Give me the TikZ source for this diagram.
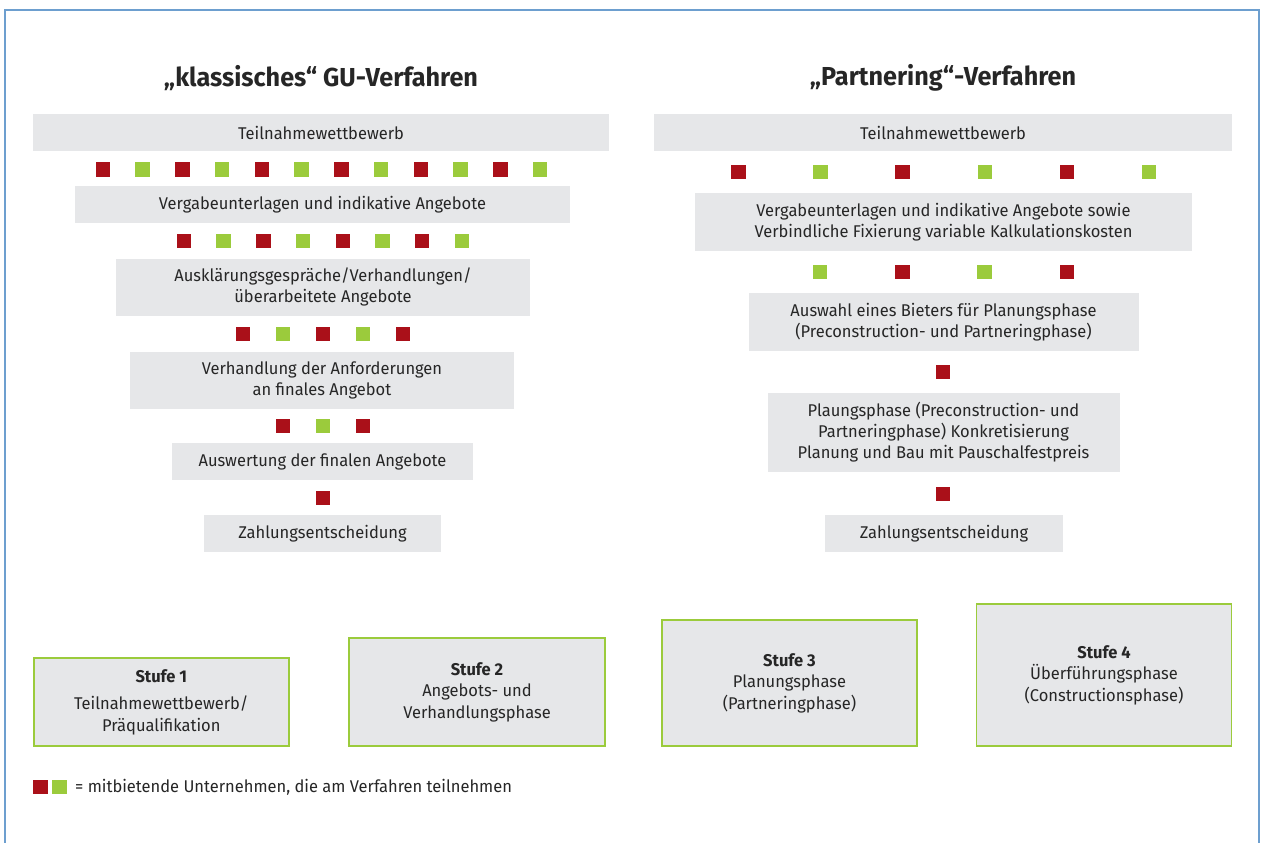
\documentclass[tikz,border=0pt]{standalone}
\usepackage{fontspec}
\setmainfont{Fira Sans}[FakeStretch=0.97]
\definecolor{boxgray}{HTML}{E6E7E9}
\definecolor{sqred}{HTML}{AA1019}
\definecolor{sqgreen}{HTML}{9BCB3C}
\definecolor{txt}{HTML}{262626}
\definecolor{frameblue}{HTML}{6D9FCF}
\begin{document}
\begin{tikzpicture}[x=1pt,y=-1pt,
  gbox/.style={rectangle, fill=boxgray, text=txt, align=center, inner sep=0pt, font=\fontsize{17}{21}\selectfont},
  stufe/.style={rectangle, fill=boxgray, draw=sqgreen, line width=1.5pt, text=txt, align=center, inner sep=0pt, font=\fontsize{17}{21.5}\selectfont},
  sqr/.style={rectangle, fill=sqred, minimum size=14.5pt, inner sep=0pt},
  sqg/.style={rectangle, fill=sqgreen, minimum size=14.5pt, inner sep=0pt},
  ttl/.style={text=txt, font=\fontsize{26}{30}\selectfont\bfseries, inner sep=0pt}]
\useasboundingbox (0,0) rectangle (1262,843);
\fill[white] (0,0) rectangle (1262,843);
\coordinate (fa) at (5,843);
\coordinate (fb) at (5,10);
\coordinate (fc) at (1259,10);
\coordinate (fd) at (1259,843);
\draw[frameblue, line width=1.8pt] (fa) -- (fb) -- (fc) -- (fd);

% titles
\node[ttl] (t1) at (321,78) {„klassisches“ GU-Verfahren};
\node[ttl] (t2) at (943,78) {„Partnering“-Verfahren};

% left column
\node[gbox, minimum width=576pt, minimum height=37pt] (l1) at (321,132.5) {Teilnahmewettbewerb};
\node[gbox, minimum width=495pt, minimum height=37pt] (l2) at (322.5,204.5) {Vergabeunterlagen und indikative Angebote};
\node[gbox, minimum width=414pt, minimum height=57pt] (l3) at (323,287) {Ausklärungsgespräche/Verhandlungen/\\überarbeitete Angebote};
\node[gbox, minimum width=384pt, minimum height=57pt] (l4) at (322,380) {Verhandlung der Anforderungen\\an finales Angebot};
\node[gbox, minimum width=301pt, minimum height=37pt] (l5) at (322.5,461.5) {Auswertung der finalen Angebote};
\node[gbox, minimum width=237pt, minimum height=37pt] (l6) at (322.5,533.5) {Zahlungsentscheidung};

\foreach \i in {0,...,11}{
  \pgfmathsetmacro{\xx}{103+39.73*\i}
  \ifodd\i \node[sqg] (la\i) at (\xx,169.5) {}; \else \node[sqr] (la\i) at (\xx,169.5) {}; \fi
}
\foreach \i in {0,...,7}{
  \pgfmathsetmacro{\xx}{184+39.7*\i}
  \ifodd\i \node[sqg] (lb\i) at (\xx,241) {}; \else \node[sqr] (lb\i) at (\xx,241) {}; \fi
}
\foreach \i in {0,...,4}{
  \pgfmathsetmacro{\xx}{243+40*\i}
  \ifodd\i \node[sqg] (lc\i) at (\xx,334) {}; \else \node[sqr] (lc\i) at (\xx,334) {}; \fi
}
\foreach \i in {0,...,2}{
  \pgfmathsetmacro{\xx}{283+40*\i}
  \ifodd\i \node[sqg] (ld\i) at (\xx,426) {}; \else \node[sqr] (ld\i) at (\xx,426) {}; \fi
}
\node[sqr] (le0) at (323,498) {};

% right column
\node[gbox, minimum width=578pt, minimum height=37pt] (r1) at (943,132.5) {Teilnahmewettbewerb};
\node[gbox, minimum width=497pt, minimum height=58pt] (r2) at (943.5,222) {Vergabeunterlagen und indikative Angebote sowie\\Verbindliche Fixierung variable Kalkulationskosten};
\node[gbox, minimum width=390pt, minimum height=58pt] (r3) at (943.5,322) {Auswahl eines Bieters für Planungsphase\\(Preconstruction- und Partneringphase)};
\node[gbox, minimum width=352pt, minimum height=79pt] (r4) at (943.5,432.5) {Plaungsphase (Preconstruction- und\\Partneringphase) Konkretisierung\\Planung und Bau mit Pauschalfestpreis};
\node[gbox, minimum width=238pt, minimum height=37pt] (r5) at (944,533.5) {Zahlungsentscheidung};

\foreach \i in {0,...,5}{
  \pgfmathsetmacro{\xx}{738.5+82.1*\i}
  \ifodd\i \node[sqg] (ra\i) at (\xx,172) {}; \else \node[sqr] (ra\i) at (\xx,172) {}; \fi
}
\foreach \i in {0,...,3}{
  \pgfmathsetmacro{\xx}{820+82.3*\i}
  \ifodd\i \node[sqr] (rb\i) at (\xx,272) {}; \else \node[sqg] (rb\i) at (\xx,272) {}; \fi
}
\node[sqr] (rc0) at (943,372) {};
\node[sqr] (rd0) at (943,494) {};

% Stufen
\node[stufe, minimum width=255pt, minimum height=88pt] (s1) at (161.3,702) {\textbf{Stufe 1}\\[6pt]Teilnahmewettbewerb/\\Präqualifikation};
\node[stufe, minimum width=256pt, minimum height=108pt] (s2) at (477,692) {\textbf{Stufe 2}\\Angebots- und\\Verhandlungsphase};
\node[stufe, minimum width=255pt, minimum height=126pt] (s3) at (789.5,683) {\textbf{Stufe 3}\\Planungsphase\\(Partneringphase)};
\node[stufe, minimum width=255pt, minimum height=142pt] (s4) at (1104,675) {\textbf{Stufe 4}\\Überführungsphase\\(Constructionsphase)};

% legend
\node[sqr] (lgr) at (40.3,787) {};
\node[sqg] (lgg) at (59.5,787) {};
\node[anchor=west, text=txt, font=\fontsize{17}{21}\selectfont, inner sep=0pt] (lgt) at (75,787) {= mitbietende Unternehmen, die am Verfahren teilnehmen};
\end{tikzpicture}
\end{document}
